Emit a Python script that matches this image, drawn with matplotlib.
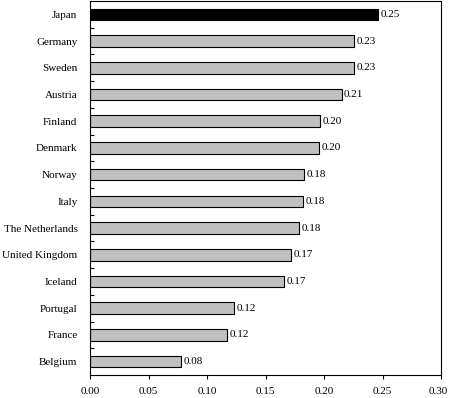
import numpy as np
import matplotlib
matplotlib.use('Agg')
import matplotlib.pyplot as plt
import matplotlib.ticker as ticker
import matplotlib.transforms as mtransforms

#--------- data ---------
countries = ['Japan', 'Germany', 'Sweden', 'Austria', 'Finland', 'Denmark', 'Norway',
             'Italy', 'The Netherlands', 'United Kingdom', 'Iceland', 'Portugal',
             'France', 'Belgium']
values = [0.246, 0.226, 0.226, 0.215, 0.197, 0.196, 0.183,
          0.182, 0.179, 0.172, 0.166, 0.123, 0.117, 0.078]
value_labels = ['0.25', '0.23', '0.23', '0.21', '0.20', '0.20', '0.18',
                '0.18', '0.18', '0.17', '0.17', '0.12', '0.12', '0.08']
x_ticks = [0.00, 0.05, 0.10, 0.15, 0.20, 0.25, 0.30]

#--------- style ---------
plt.rcParams['font.family'] = ['Liberation Serif', 'DejaVu Serif']
plt.rcParams['font.size'] = 8

fig = plt.figure(figsize=(4.49, 3.98), dpi=100)
ax = fig.add_axes([90/449, 23/398, 351/449, 374/398])

pos = np.arange(len(countries))
colors = ['black'] + ['#c0c0c0'] * (len(countries) - 1)
ax.barh(pos, values, height=0.43, color=colors, edgecolor='black', linewidth=0.8)

for p, v, lab in zip(pos, values, value_labels):
    ax.text(v + 0.002, p, lab, va='center', ha='left')

ax.set_xlim(0, 0.30)
ax.set_ylim(len(countries) - 0.5, -0.5)

ax.set_xticks(x_ticks)
ax.xaxis.set_major_formatter(ticker.FormatStrFormatter('%.2f'))
ax.tick_params(axis='x', direction='out', length=3, width=0.8, pad=6)
# keep the last tick label inside the picture
last = ax.get_xticklabels()[-1]
last.set_transform(last.get_transform() + mtransforms.ScaledTranslation(-3/100, 0, fig.dpi_scale_trans))

# category names on minor ticks, separators on major ticks
ax.set_yticks(np.arange(0.5, len(countries) - 1, 1.0))
ax.set_yticklabels([])
ax.set_yticks(pos, minor=True)
ax.set_yticklabels(countries, minor=True)
ax.tick_params(axis='y', which='major', direction='in', length=3, width=0.8)
ax.tick_params(axis='y', which='minor', length=0, pad=9)

for s in ax.spines.values():
    s.set_linewidth(0.8)

fig.savefig('out.png', dpi=100)
